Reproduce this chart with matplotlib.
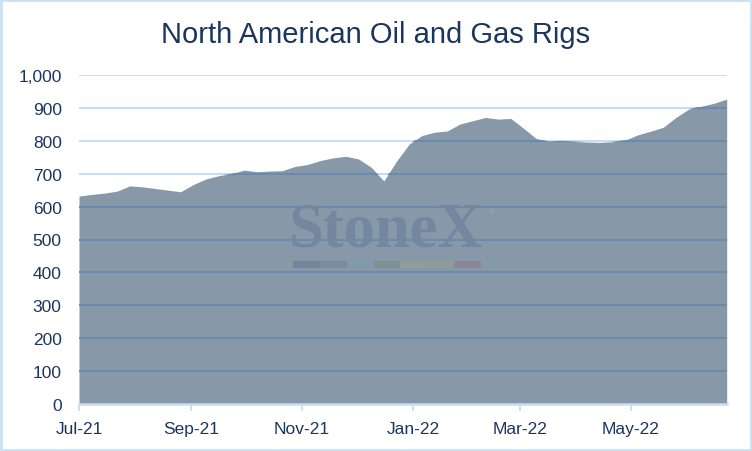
import matplotlib
matplotlib.use("Agg")
import matplotlib.pyplot as plt
from matplotlib.patches import Rectangle
import pandas as pd

plt.rcParams['font.family'] = ['Liberation Sans', 'DejaVu Sans']

title = "North American Oil and Gas Rigs"
start_date = "2021-07-02"
rigs = [632, 637, 641, 647, 663, 660, 655, 650, 645, 667,
        684, 694, 700, 711, 706, 708, 709, 722, 728, 740,
        748, 753, 745, 720, 678, 738, 790, 816, 826, 830,
        851, 861, 871, 866, 868, 838, 807, 798, 800, 798,
        796, 795, 797, 802, 818, 829, 841, 871, 896, 905,
        914, 927]
tick_dates = ["2021-07-02", "2021-09-02", "2021-11-02",
              "2022-01-02", "2022-03-02", "2022-05-02"]
tick_labels = ["Jul-21", "Sep-21", "Nov-21", "Jan-22", "Mar-22", "May-22"]
y_ticks = [0, 100, 200, 300, 400, 500, 600, 700, 800, 900, 1000]

dates = pd.date_range(start_date, periods=len(rigs), freq="7D")

W, H = 752, 452
fig = plt.figure(figsize=(W / 100, H / 100), dpi=100)
ax = fig.add_axes([79 / W, 47 / H, (726.7 - 79) / W, (405 - 76) / H])

navy = "#1b365d"
light_grid = "#c5def4"
dark_grid = "#6a8aae"
area_col = "#8798a9"

for v in y_ticks[1:]:
    ax.axhline(v, color=light_grid, lw=1.5, zorder=1)

poly = ax.fill_between(dates, 0, rigs, color=area_col, lw=0, zorder=2)
clip_path = poly.get_paths()[0]

for v in y_ticks[1:]:
    ln = ax.axhline(v, color=dark_grid, lw=1.5, zorder=3)
    ln.set_clip_path(clip_path, ax.transData)

ax.set_xlim(dates[0], dates[-1])
ax.set_ylim(0, 1000)
ax.set_yticks(y_ticks)
ax.set_yticklabels([f"{v:,}" for v in y_ticks])
ax.set_xticks(pd.to_datetime(tick_dates))
ax.set_xticklabels(tick_labels)

for s in ["top", "right", "left"]:
    ax.spines[s].set_visible(False)
ax.spines["bottom"].set_color(light_grid)
ax.spines["bottom"].set_linewidth(1.8)
ax.spines["bottom"].set_zorder(4)
ax.tick_params(axis="y", length=0, pad=12.5, labelsize=12.5, labelcolor=navy)
ax.tick_params(axis="x", length=5, width=1.3, color=light_grid, pad=7,
               labelsize=12.5, labelcolor=navy)
ax.set_facecolor("white")

fig.text(0.5, 1 - 35 / H, title, ha="center", va="center",
         fontsize=21, color=navy)

# watermark
ax.text(386 / W, 1 - 232 / H, "StoneX", transform=fig.transFigure,
        ha="center", va="center", fontsize=45, color="#7388a0",
        fontweight="semibold",
        family=["Liberation Serif", "DejaVu Serif"], zorder=5)
ax.text(491 / W, 1 - 213 / H, "®", transform=fig.transFigure,
        ha="center", va="center", fontsize=5, color="#9aa8b8", zorder=5)
bar_cols = ["#73859c", "#7a8aa1", "#8199ad", "#7b9291",
            "#8f9c99", "#909b94", "#8d8697"]
x0, x1 = 293, 481
seg = (x1 - x0) / len(bar_cols)
for i, c in enumerate(bar_cols):
    fig.patches.append(Rectangle(((x0 + i * seg) / W, 1 - 268.5 / H),
                                 seg / W, 6.5 / H, transform=fig.transFigure,
                                 facecolor=c, edgecolor="none", zorder=5))

fig.patches.append(Rectangle((1.2 / W, 1.2 / H), (W - 2.4) / W, (H - 2.4) / H,
                             transform=fig.transFigure, fill=False,
                             edgecolor="#c9e0f5", lw=2, zorder=10))

fig.savefig("out.png", dpi=100)
